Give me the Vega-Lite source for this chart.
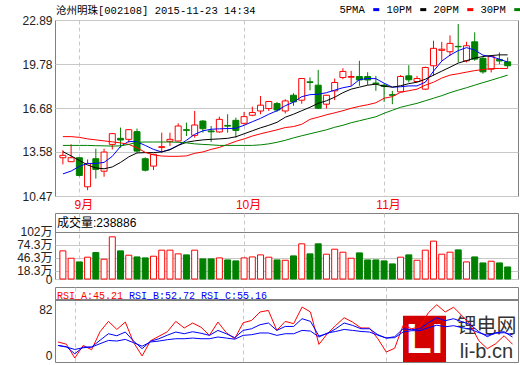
{
"$schema": "https://vega.github.io/schema/vega-lite/v6.json",
"autosize": {"type": "pad"},
"padding": {"left": 16, "top": 4, "right": 0, "bottom": 0},
"bounds": "flush",
"spacing": 17,
"data": {"values": [
{"i":0,"d":"2015-08-28","o":13.17,"h":13.70,"l":12.70,"c":13.34,"v":60.8,"5PMA":12.03,"10PM":13.60,"20PM":14.66,"30PM":14.04,"RSI_A":47.6,"RSI_B":44.0,"RSI_C":44.0},
{"i":1,"d":"2015-08-31","o":12.89,"h":14.12,"l":12.89,"c":13.17,"v":44.9,"5PMA":12.23,"10PM":13.30,"20PM":14.66,"30PM":14.04,"RSI_A":45.3,"RSI_B":42.7,"RSI_C":42.3},
{"i":2,"d":"2015-09-01","o":13.17,"h":13.22,"l":11.85,"c":11.92,"v":36.9,"5PMA":12.56,"10PM":12.98,"20PM":14.61,"30PM":14.04,"RSI_A":30.9,"RSI_B":35.3,"RSI_C":39.8},
{"i":3,"d":"2015-09-02","o":11.12,"h":13.05,"l":10.88,"c":12.75,"v":47.1,"5PMA":12.77,"10PM":12.66,"20PM":14.50,"30PM":14.04,"RSI_A":44.0,"RSI_B":42.3,"RSI_C":41.6},
{"i":4,"d":"2015-09-07","o":13.10,"h":13.81,"l":11.70,"c":12.35,"v":57.1,"5PMA":12.77,"10PM":12.45,"20PM":14.43,"30PM":14.02,"RSI_A":39.5,"RSI_B":42.3,"RSI_C":42.3},
{"i":5,"d":"2015-09-08","o":12.22,"h":13.81,"l":11.83,"c":13.57,"v":42.7,"5PMA":12.84,"10PM":12.39,"20PM":14.36,"30PM":14.01,"RSI_A":58.3,"RSI_B":49.4,"RSI_C":45.8},
{"i":6,"d":"2015-09-09","o":14.11,"h":14.92,"l":13.76,"c":14.87,"v":91.1,"5PMA":13.27,"10PM":12.52,"20PM":14.29,"30PM":13.99,"RSI_A":69.1,"RSI_B":56.2,"RSI_C":49.2},
{"i":7,"d":"2015-09-10","o":14.54,"h":15.30,"l":13.88,"c":14.42,"v":60.8,"5PMA":13.97,"10PM":12.84,"20PM":14.22,"30PM":14.01,"RSI_A":60.7,"RSI_B":54.1,"RSI_C":48.6},
{"i":8,"d":"2015-09-11","o":14.47,"h":15.18,"l":14.23,"c":15.15,"v":51.4,"5PMA":14.33,"10PM":13.23,"20PM":14.11,"30PM":14.11,"RSI_A":68.4,"RSI_B":58.0,"RSI_C":50.3},
{"i":9,"d":"2015-09-14","o":15.01,"h":15.23,"l":13.53,"c":13.64,"v":47.7,"5PMA":14.29,"10PM":13.51,"20PM":13.87,"30PM":14.26,"RSI_A":46.8,"RSI_B":48.4,"RSI_C":46.8},
{"i":10,"d":"2015-09-15","o":13.10,"h":13.20,"l":12.20,"c":12.29,"v":45.6,"5PMA":14.04,"10PM":13.53,"20PM":13.55,"30PM":14.28,"RSI_A":33.0,"RSI_B":40.6,"RSI_C":43.2},
{"i":11,"d":"2015-09-16","o":12.58,"h":13.45,"l":12.30,"c":13.41,"v":49.2,"5PMA":13.76,"10PM":13.53,"20PM":13.37,"30PM":14.28,"RSI_A":48.9,"RSI_B":48.4,"RSI_C":47.6},
{"i":12,"d":"2015-09-17","o":13.90,"h":14.94,"l":13.53,"c":13.95,"v":62.3,"5PMA":13.58,"10PM":13.58,"20PM":13.29,"30PM":14.28,"RSI_A":53.6,"RSI_B":51.0,"RSI_C":48.6},
{"i":13,"d":"2015-09-18","o":14.33,"h":14.94,"l":14.00,"c":14.47,"v":62.3,"5PMA":13.76,"10PM":13.73,"20PM":13.27,"30PM":14.28,"RSI_A":58.3,"RSI_B":54.7,"RSI_C":50.0},
{"i":14,"d":"2015-09-21","o":14.35,"h":15.60,"l":14.30,"c":15.41,"v":54.3,"5PMA":14.04,"10PM":14.04,"20PM":13.27,"30PM":14.26,"RSI_A":69.1,"RSI_B":58.0,"RSI_C":51.0},
{"i":15,"d":"2015-09-22","o":15.15,"h":15.65,"l":14.70,"c":15.10,"v":52.1,"5PMA":14.40,"10PM":14.26,"20PM":13.30,"30PM":14.22,"RSI_A":62.2,"RSI_B":56.2,"RSI_C":51.0},
{"i":16,"d":"2015-09-23","o":14.75,"h":16.47,"l":14.59,"c":15.48,"v":62.3,"5PMA":14.82,"10PM":14.36,"20PM":13.48,"30PM":14.15,"RSI_A":67.4,"RSI_B":58.3,"RSI_C":51.7},
{"i":17,"d":"2015-09-24","o":15.76,"h":15.83,"l":14.94,"c":15.22,"v":43.4,"5PMA":15.07,"10PM":14.43,"20PM":13.58,"30PM":14.11,"RSI_A":63.0,"RSI_B":56.7,"RSI_C":51.0},
{"i":18,"d":"2015-09-25","o":15.06,"h":15.41,"l":14.28,"c":15.00,"v":43.4,"5PMA":15.18,"10PM":14.47,"20PM":13.76,"30PM":14.08,"RSI_A":54.5,"RSI_B":54.5,"RSI_C":51.0},
{"i":19,"d":"2015-09-28","o":14.99,"h":16.07,"l":14.94,"c":15.88,"v":45.6,"5PMA":15.21,"10PM":14.50,"20PM":13.90,"30PM":14.04,"RSI_A":68.4,"RSI_B":59.7,"RSI_C":52.8},
{"i":20,"d":"2015-09-29","o":15.45,"h":16.24,"l":14.94,"c":15.40,"v":41.2,"5PMA":15.23,"10PM":14.54,"20PM":14.11,"30PM":14.04,"RSI_A":57.3,"RSI_B":56.2,"RSI_C":51.7},
{"i":21,"d":"2015-09-30","o":15.81,"h":16.00,"l":14.59,"c":15.10,"v":39.1,"5PMA":15.25,"10PM":14.65,"20PM":14.33,"30PM":14.04,"RSI_A":51.0,"RSI_B":52.1,"RSI_C":50.5},
{"i":22,"d":"2015-10-08","o":15.60,"h":16.40,"l":15.50,"c":16.07,"v":45.6,"5PMA":15.46,"10PM":14.86,"20PM":14.50,"30PM":14.04,"RSI_A":67.7,"RSI_B":59.7,"RSI_C":54.5},
{"i":23,"d":"2015-10-09","o":16.17,"h":16.78,"l":16.10,"c":16.36,"v":47.7,"5PMA":15.71,"10PM":15.07,"20PM":14.70,"30PM":14.04,"RSI_A":70.1,"RSI_B":61.4,"RSI_C":55.2},
{"i":24,"d":"2015-10-12","o":16.47,"h":17.53,"l":16.24,"c":16.88,"v":52.1,"5PMA":15.95,"10PM":15.28,"20PM":14.86,"30PM":14.08,"RSI_A":78.9,"RSI_B":65.6,"RSI_C":57.0},
{"i":25,"d":"2015-10-13","o":16.64,"h":17.18,"l":16.47,"c":17.14,"v":47.1,"5PMA":16.24,"10PM":15.46,"20PM":15.00,"30PM":14.15,"RSI_A":80.5,"RSI_B":67.4,"RSI_C":57.0},
{"i":26,"d":"2015-10-14","o":16.99,"h":17.10,"l":16.40,"c":16.54,"v":41.2,"5PMA":16.49,"10PM":15.67,"20PM":15.14,"30PM":14.26,"RSI_A":59.7,"RSI_B":59.7,"RSI_C":54.5},
{"i":27,"d":"2015-10-15","o":16.47,"h":17.30,"l":16.30,"c":17.18,"v":40.5,"5PMA":16.84,"10PM":16.03,"20PM":15.30,"30PM":14.40,"RSI_A":69.1,"RSI_B":63.8,"RSI_C":56.2},
{"i":28,"d":"2015-10-16","o":17.58,"h":17.72,"l":16.83,"c":17.11,"v":49.9,"5PMA":17.09,"10PM":16.24,"20PM":15.37,"30PM":14.57,"RSI_A":66.7,"RSI_B":63.8,"RSI_C":56.2},
{"i":29,"d":"2015-10-19","o":17.23,"h":18.80,"l":16.98,"c":18.76,"v":76.0,"5PMA":17.48,"10PM":16.49,"20PM":15.53,"30PM":14.72,"RSI_A":84.1,"RSI_B":71.9,"RSI_C":59.7},
{"i":30,"d":"2015-10-20","o":18.53,"h":18.84,"l":17.93,"c":18.48,"v":54.3,"5PMA":17.62,"10PM":16.73,"20PM":15.88,"30PM":14.86,"RSI_A":78.9,"RSI_B":69.1,"RSI_C":59.0},
{"i":31,"d":"2015-10-21","o":18.29,"h":19.37,"l":16.60,"c":16.66,"v":76.0,"5PMA":17.65,"10PM":17.01,"20PM":16.03,"30PM":15.00,"RSI_A":45.1,"RSI_B":53.8,"RSI_C":52.8},
{"i":32,"d":"2015-10-22","o":16.95,"h":17.60,"l":16.64,"c":17.58,"v":53.6,"5PMA":17.76,"10PM":17.19,"20PM":16.20,"30PM":15.14,"RSI_A":56.2,"RSI_B":56.2,"RSI_C":57.0},
{"i":33,"d":"2015-10-23","o":17.89,"h":18.76,"l":17.23,"c":18.48,"v":64.4,"5PMA":17.94,"10PM":17.44,"20PM":16.34,"30PM":15.32,"RSI_A":64.9,"RSI_B":61.4,"RSI_C":58.6},
{"i":34,"d":"2015-10-26","o":18.83,"h":19.49,"l":18.71,"c":19.26,"v":57.9,"5PMA":18.11,"10PM":17.76,"20PM":16.49,"30PM":15.46,"RSI_A":72.9,"RSI_B":67.4,"RSI_C":60.7},
{"i":35,"d":"2015-10-27","o":18.85,"h":19.30,"l":18.24,"c":18.90,"v":44.9,"5PMA":18.22,"10PM":18.01,"20PM":16.66,"30PM":15.64,"RSI_A":68.4,"RSI_B":64.9,"RSI_C":59.7},
{"i":36,"d":"2015-10-28","o":18.90,"h":20.01,"l":18.24,"c":18.66,"v":56.4,"5PMA":18.68,"10PM":18.15,"20PM":16.80,"30PM":15.78,"RSI_A":62.2,"RSI_B":61.4,"RSI_C":58.6},
{"i":37,"d":"2015-10-29","o":18.90,"h":19.20,"l":18.30,"c":18.66,"v":41.2,"5PMA":18.76,"10PM":18.29,"20PM":16.91,"30PM":15.92,"RSI_A":62.2,"RSI_B":61.4,"RSI_C":58.0},
{"i":38,"d":"2015-10-30","o":18.44,"h":18.95,"l":17.89,"c":18.40,"v":41.2,"5PMA":18.75,"10PM":18.36,"20PM":17.05,"30PM":16.06,"RSI_A":51.0,"RSI_B":55.2,"RSI_C":54.7},
{"i":39,"d":"2015-11-02","o":18.29,"h":18.40,"l":17.12,"c":18.20,"v":39.1,"5PMA":18.43,"10PM":18.22,"20PM":17.37,"30PM":16.31,"RSI_A":37.1,"RSI_B":51.7,"RSI_C":51.7},
{"i":40,"d":"2015-11-03","o":17.62,"h":17.89,"l":16.95,"c":17.58,"v":32.6,"5PMA":18.15,"10PM":18.15,"20PM":17.48,"30PM":16.52,"RSI_A":41.1,"RSI_B":53.1,"RSI_C":52.1},
{"i":41,"d":"2015-11-04","o":17.82,"h":19.00,"l":17.80,"c":18.90,"v":47.1,"5PMA":18.18,"10PM":18.25,"20PM":17.79,"30PM":16.73,"RSI_A":64.9,"RSI_B":61.4,"RSI_C":58.0},
{"i":42,"d":"2015-11-05","o":18.95,"h":19.70,"l":18.48,"c":18.67,"v":52.1,"5PMA":18.24,"10PM":18.40,"20PM":17.90,"30PM":16.87,"RSI_A":61.4,"RSI_B":60.4,"RSI_C":59.4},
{"i":43,"d":"2015-11-06","o":18.55,"h":18.95,"l":18.50,"c":18.76,"v":40.5,"5PMA":18.24,"10PM":18.50,"20PM":18.01,"30PM":17.01,"RSI_A":63.5,"RSI_B":61.4,"RSI_C":59.4},
{"i":44,"d":"2015-11-09","o":18.01,"h":19.60,"l":17.96,"c":19.54,"v":62.3,"5PMA":18.50,"10PM":18.71,"20PM":18.29,"30PM":17.19,"RSI_A":78.1,"RSI_B":67.7,"RSI_C":62.5},
{"i":45,"d":"2015-11-10","o":19.66,"h":21.43,"l":18.95,"c":20.89,"v":81.8,"5PMA":19.28,"10PM":19.00,"20PM":18.50,"30PM":17.37,"RSI_A":86.5,"RSI_B":72.9,"RSI_C":65.1},
{"i":46,"d":"2015-11-11","o":20.75,"h":21.35,"l":20.00,"c":20.83,"v":53.6,"5PMA":19.99,"10PM":19.28,"20PM":18.79,"30PM":17.55,"RSI_A":78.9,"RSI_B":69.8,"RSI_C":63.5},
{"i":47,"d":"2015-11-12","o":20.65,"h":21.80,"l":20.36,"c":21.24,"v":57.9,"5PMA":20.41,"10PM":19.56,"20PM":19.00,"30PM":17.76,"RSI_A":83.9,"RSI_B":71.9,"RSI_C":64.6},
{"i":48,"d":"2015-11-13","o":21.03,"h":22.61,"l":19.90,"c":21.00,"v":62.9,"5PMA":20.73,"10PM":19.85,"20PM":19.10,"30PM":17.94,"RSI_A":75.0,"RSI_B":68.8,"RSI_C":62.5},
{"i":49,"d":"2015-11-16","o":20.01,"h":21.35,"l":19.90,"c":21.07,"v":36.9,"5PMA":20.94,"10PM":20.02,"20PM":19.21,"30PM":18.11,"RSI_A":65.6,"RSI_B":65.6,"RSI_C":60.9},
{"i":50,"d":"2015-11-17","o":21.35,"h":22.02,"l":20.01,"c":20.13,"v":47.7,"5PMA":20.77,"10PM":20.20,"20PM":19.32,"30PM":18.29,"RSI_A":48.9,"RSI_B":58.3,"RSI_C":57.3},
{"i":51,"d":"2015-11-18","o":20.18,"h":20.30,"l":19.10,"c":19.23,"v":34.7,"5PMA":20.41,"10PM":20.31,"20PM":19.39,"30PM":18.47,"RSI_A":40.6,"RSI_B":53.1,"RSI_C":54.7},
{"i":52,"d":"2015-11-19","o":19.42,"h":20.40,"l":19.19,"c":20.32,"v":38.4,"5PMA":20.31,"10PM":20.38,"20PM":19.46,"30PM":18.64,"RSI_A":45.8,"RSI_B":57.3,"RSI_C":56.7},
{"i":53,"d":"2015-11-20","o":20.10,"h":20.60,"l":19.78,"c":20.00,"v":34.7,"5PMA":20.13,"10PM":20.43,"20PM":19.47,"30PM":18.82,"RSI_A":54.1,"RSI_B":58.3,"RSI_C":57.3},
{"i":54,"d":"2015-11-23","o":19.94,"h":20.25,"l":19.47,"c":19.66,"v":26.0,"5PMA":19.92,"10PM":20.43,"20PM":19.47,"30PM":19.00,"RSI_A":45.21,"RSI_B":52.72,"RSI_C":55.16}
]},
"vconcat": [
{
"width": 463, "height": 176,
"title": {"text": "沧州明珠[002108] 2015-11-23 14:34", "anchor": "start", "frame": "group", "offset": -2, "dx": 1, "font": "Liberation Mono, Noto Sans CJK SC", "fontSize": 10.5, "fontWeight": "normal", "color": "#000000"},
"encoding": {
  "x": {"field": "i", "type": "quantitative", "title": null,
        "scale": {"domain": [-0.35, 54.65], "nice": false, "zero": false},
        "axis": {"values": [2, 22, 39], "labelExpr": "datum.value === 2 ? '9月' : datum.value === 22 ? '10月' : '11月'", "labelColor": "#ff0000", "labelAlign": "center", "labelOffset": 4, "grid": true, "gridDash": [4, 3], "labelPadding": 3}}
},
"layer": [
  {"data": {"values": [{}]},
   "mark": {"type": "text", "text": "东方财富网", "font": "Noto Sans CJK SC", "fontSize": 15, "fontWeight": "bold", "color": "#c4c4c4"},
   "encoding": {"x": {"datum": 50.2}, "y": {"datum": 22.36}}},
  {"data": {"values": [{}]},
   "mark": {"type": "text", "text": "eastmoney.com", "font": "Liberation Sans", "fontSize": 11.5, "fontWeight": "bold", "color": "#c8c8c8"},
   "encoding": {"x": {"datum": 49.5}, "y": {"datum": 21.48}}},
  {"mark": {"type": "rule", "strokeWidth": 1},
   "encoding": {
     "y": {"field": "l", "type": "quantitative", "title": null,
           "scale": {"domain": [10.47, 22.89], "nice": false, "zero": false},
           "axis": {"values": [22.89, 21.33, 19.78, 18.23, 16.68, 15.13, 13.58, 12.03, 10.47], "format": ".2f", "grid": true}},
     "y2": {"field": "h"},
     "stroke": {"condition": {"test": "datum.c >= datum.o", "value": "#ff0000"}, "value": "#008000"}
   }},
  {"mark": {"type": "bar", "width": 6, "strokeWidth": 1},
   "encoding": {
     "y": {"field": "o", "type": "quantitative", "title": null},
     "y2": {"field": "c"},
     "fill": {"condition": {"test": "datum.c >= datum.o", "value": "#ffffff"}, "value": "#008000"},
     "stroke": {"condition": {"test": "datum.c >= datum.o", "value": "#ff0000"}, "value": "#008000"}
   }},
  {"transform": [{"fold": ["5PMA", "10PM", "20PM", "30PM"], "as": ["k", "val"]}],
   "mark": {"type": "line", "strokeWidth": 1},
   "encoding": {
     "y": {"field": "val", "type": "quantitative", "title": null},
     "color": {"field": "k", "type": "nominal",
               "scale": {"domain": ["5PMA", "10PM", "20PM", "30PM"], "range": ["#0000ff", "#000000", "#ff0000", "#008000"]},
               "legend": {"orient": "none", "legendX": 313, "legendY": -16, "direction": "horizontal", "title": null,
                          "symbolType": "M0,0L6,0", "symbolSize": 4, "symbolStrokeWidth": 3,
                          "labelFont": "Liberation Mono", "labelFontSize": 10.5, "labelColor": "#000000", "labelOffset": -39, "columnPadding": 0}}
   }}
]
},
{
"vconcat": [
  {
  "width": 463, "height": 66,
  "title": {"text": "成交量:238886", "anchor": "start", "frame": "group", "offset": -17, "dx": 2, "font": "Liberation Sans, Noto Sans CJK SC", "fontSize": 12, "fontWeight": "normal", "color": "#000000"},
  "mark": {"type": "bar", "width": 6, "strokeWidth": 1},
  "encoding": {
    "x": {"field": "i", "type": "quantitative", "title": null,
          "scale": {"domain": [-0.35, 54.65], "nice": false, "zero": false},
          "axis": {"values": [2, 22, 39], "labels": false, "grid": true, "gridDash": [4, 3]}},
    "y": {"field": "v", "type": "quantitative", "title": null,
          "scale": {"domain": [0, 142.6], "nice": false},
          "axis": {"values": [0, 18.3, 46.3, 74.3, 102], "labelExpr": "datum.value === 0 ? '0' : datum.value + '万'", "grid": true,
                   "gridColor": {"condition": {"test": "datum.value === 102", "value": "#808080"}, "value": "#c8c8c8"}}},
    "fill": {"condition": {"test": "datum.c >= datum.o", "value": "#ffffff"}, "value": "#008000"},
    "stroke": {"condition": {"test": "datum.c >= datum.o", "value": "#ff0000"}, "value": "#008000"}
  }
  },
  {
  "width": 463, "height": 75,
  "layer": [
    {"data": {"values": [{}]},
     "mark": {"type": "rect", "color": "#d40000"},
     "encoding": {"x": {"datum": 40.99, "type": "quantitative", "scale": {"domain": [-0.35, 54.65], "nice": false, "zero": false}, "title": null, "axis": {"values": [2, 22, 39], "labels": false, "grid": true, "gridDash": [4, 3]}},
                  "x2": {"datum": 46.1},
                  "y": {"datum": 75, "type": "quantitative", "scale": {"domain": [26.7, 105], "nice": false, "zero": false}, "title": null,
                        "axis": {"values": [34, 58, 82], "labelExpr": "datum.value === 34 ? '0' : datum.label", "grid": true,
                                 "gridOpacity": {"condition": {"test": "datum.value === 58", "value": 1}, "value": 0}}},
                  "y2": {"datum": 26.7}}},
    {"data": {"values": [{}]},
     "mark": {"type": "text", "text": "LI", "font": "Liberation Sans", "fontSize": 42, "fontWeight": "bold", "color": "#ffffff"},
     "encoding": {"x": {"datum": 43.55}, "y": {"datum": 50}}},
    {"data": {"values": [{}]},
     "mark": {"type": "text", "text": "锂电网", "font": "Noto Sans CJK SC", "fontSize": 20, "color": "#333333"},
     "encoding": {"x": {"datum": 50.9}, "y": {"datum": 63.5}}},
    {"data": {"values": [{}]},
     "mark": {"type": "text", "text": "li-b.cn", "font": "Liberation Sans", "fontSize": 20, "color": "#333333"},
     "encoding": {"x": {"datum": 50.9}, "y": {"datum": 37.5}}},
    {"transform": [{"fold": ["RSI_A", "RSI_B", "RSI_C"], "as": ["rk", "rv"]}],
     "mark": {"type": "line", "strokeWidth": 1},
     "encoding": {
       "x": {"field": "i", "type": "quantitative", "title": null},
       "y": {"field": "rv", "type": "quantitative", "title": null},
       "stroke": {"field": "rk", "type": "nominal",
                  "scale": {"domain": ["RSI_A", "RSI_B", "RSI_C"], "range": ["#ff0000", "#0000ff", "#0000ff"]},
                  "legend": {"orient": "none", "legendX": 4, "legendY": 271, "direction": "horizontal", "title": null,
                             "symbolOpacity": 0, "symbolSize": 0, "labelOffset": -12, "columnPadding": 5,
                             "labelFont": "Liberation Mono", "labelFontSize": 10,
                             "labelExpr": "datum.label === 'RSI_A' ? 'RSI_A:45.21' : datum.label === 'RSI_B' ? 'RSI_B:52.72' : 'RSI_C:55.16'",
                             "labelColor": {"expr": "datum.value === 'RSI_A' ? '#ff0000' : '#0000ff'"}}}
     }},
    {"mark": {"type": "rule", "color": "#808080", "strokeWidth": 1},
     "encoding": {"y": {"datum": 91.4}}}
  ]
  }
],
"spacing": 8,
"bounds": "flush"
}
],
"config": {
  "view": {"stroke": "#808080"},
  "axis": {"labelFont": "Liberation Sans, Noto Sans CJK SC", "labelFontSize": 12, "labelColor": "#222222", "ticks": false, "domain": false, "gridColor": "#c8c8c8", "labelOverlap": false, "labelFlush": false, "labelPadding": 3},
  "legend": {"labelFont": "Liberation Mono", "labelColor": "#000000"}
}
}
